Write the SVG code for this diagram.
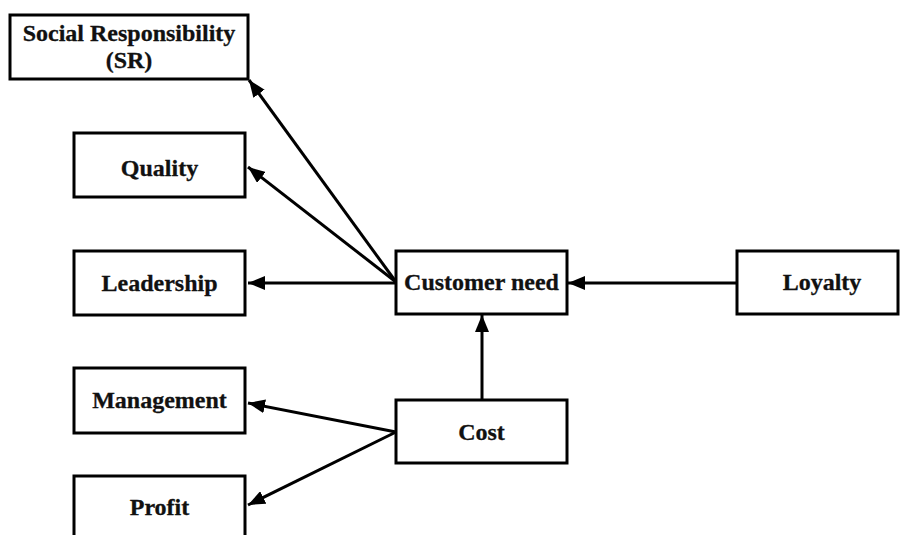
<svg xmlns="http://www.w3.org/2000/svg" width="900" height="535" viewBox="0 0 900 535">
  <style>
    .box { fill: #ffffff; stroke: #000000; stroke-width: 3; }
    .lbl { font-family: "Liberation Serif", "Times New Roman", serif; font-weight: bold; font-size: 24px; fill: #111111; stroke: #111111; stroke-width: 0.3; text-anchor: middle; }
    .link { stroke: #000000; stroke-width: 3; fill: none; marker-end: url(#arrow); }
  </style>
  <defs>
    <marker id="arrow" markerUnits="userSpaceOnUse" markerWidth="18" markerHeight="14" refX="17" refY="7" orient="auto">
      <path d="M0,0 L17,7 L0,14 z" fill="#000000"/>
    </marker>
  </defs>
  <rect width="900" height="535" fill="#ffffff"/>

  <g id="connectors">
    <line class="link" x1="396" y1="282" x2="249" y2="80"/>
    <line class="link" x1="396" y1="282" x2="248" y2="167"/>
    <line class="link" x1="396" y1="283" x2="248" y2="283"/>
    <line class="link" x1="737" y1="283" x2="568" y2="283"/>
    <line class="link" x1="482" y1="400" x2="482" y2="315"/>
    <line class="link" x1="396" y1="432" x2="248" y2="403"/>
    <line class="link" x1="396" y1="432" x2="248" y2="505"/>
  </g>

  <g id="node-sr">
    <rect class="box" x="10" y="15" width="238" height="64"/>
    <text class="lbl" x="129" y="41">Social Responsibility</text>
    <text class="lbl" x="129" y="68">(SR)</text>
  </g>
  <g id="node-quality">
    <rect class="box" x="74" y="133" width="171" height="64"/>
    <text class="lbl" x="159.5" y="176">Quality</text>
  </g>
  <g id="node-leadership">
    <rect class="box" x="74" y="251" width="171" height="64"/>
    <text class="lbl" x="159.5" y="291">Leadership</text>
  </g>
  <g id="node-customer-need">
    <rect class="box" x="396" y="251" width="171" height="63"/>
    <text class="lbl" x="481.5" y="290">Customer need</text>
  </g>
  <g id="node-loyalty">
    <rect class="box" x="737" y="251" width="161" height="63"/>
    <text class="lbl" x="822" y="290">Loyalty</text>
  </g>
  <g id="node-management">
    <rect class="box" x="74" y="368" width="171" height="65"/>
    <text class="lbl" x="159.5" y="408">Management</text>
  </g>
  <g id="node-cost">
    <rect class="box" x="396" y="400" width="171" height="63"/>
    <text class="lbl" x="481.5" y="440">Cost</text>
  </g>
  <g id="node-profit">
    <rect class="box" x="74" y="476" width="171" height="64"/>
    <text class="lbl" x="159.5" y="515">Profit</text>
  </g>
</svg>
